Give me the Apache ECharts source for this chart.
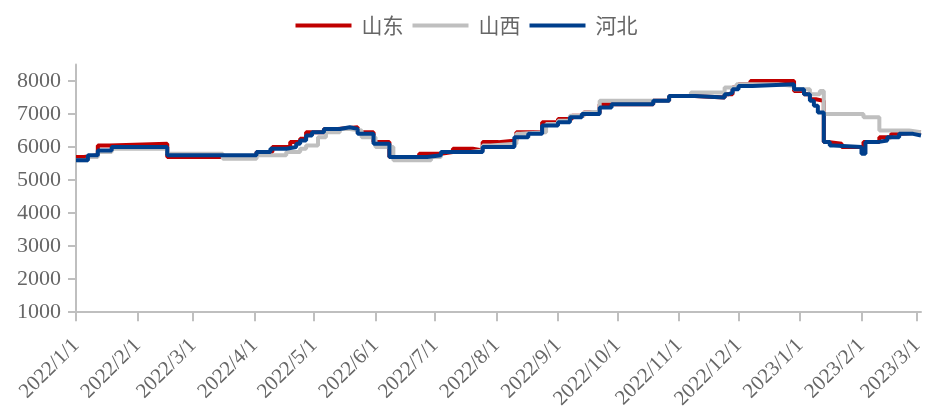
<!DOCTYPE html>
<html>
<head>
<meta charset="utf-8">
<script src="https://cdn.jsdelivr.net/npm/echarts@6/dist/echarts.min.js"></script>
<style>
  html, body { margin: 0; padding: 0; background: #fff; }
  #chart { width: 933px; height: 412px; }
</style>
</head>
<body>
<div id="chart"></div>
<script>
// Month-start tick labels on the date axis
const monthTicks = [
  '2022-01-01', '2022-02-01', '2022-03-01', '2022-04-01', '2022-05-01',
  '2022-06-01', '2022-07-01', '2022-08-01', '2022-09-01', '2022-10-01',
  '2022-11-01', '2022-12-01', '2023-01-01', '2023-02-01', '2023-03-01'
];
const yTicks = [1000, 2000, 3000, 4000, 5000, 6000, 7000, 8000];

// 山东: price change dates and the price held from each date
const shandongDates = [
  '2022-01-01', '2022-01-05', '2022-01-12', '2022-01-18', '2022-02-16', '2022-04-02',
  '2022-04-10', '2022-04-19', '2022-04-24', '2022-04-27', '2022-05-06', '2022-05-13',
  '2022-05-23', '2022-05-31', '2022-06-08', '2022-06-23', '2022-07-04', '2022-07-10',
  '2022-07-20', '2022-07-25', '2022-08-02', '2022-08-11', '2022-08-24', '2022-09-01',
  '2022-09-08', '2022-09-14', '2022-09-22', '2022-10-19', '2022-10-27', '2022-11-09',
  '2022-11-24', '2022-11-28', '2022-12-01', '2022-12-07', '2022-12-29', '2023-01-03',
  '2023-01-06', '2023-01-09', '2023-01-13', '2023-01-16', '2023-01-22', '2023-02-02',
  '2023-02-10', '2023-02-16', '2023-02-21', '2023-03-03'
];
const shandongPrices = [
  5700, 5750, 6050, 6100, 5700, 5850,
  6000, 6150, 6250, 6450, 6550, 6600,
  6450, 6150, 5700, 5800, 5850, 5950,
  5900, 6150, 6200, 6450, 6750, 6850,
  6950, 7050, 7300, 7400, 7550, 7500,
  7600, 7800, 7900, 8000, 7700, 7600,
  7450, 7400, 6150, 6100, 6000, 6150,
  6300, 6400, 6450, 6450
];

// 山西
const shanxiDates = [
  '2022-01-01', '2022-01-07', '2022-01-12', '2022-01-19', '2022-02-16', '2022-03-16',
  '2022-04-02', '2022-04-17', '2022-04-24', '2022-04-27', '2022-05-03', '2022-05-07',
  '2022-05-14', '2022-05-19', '2022-05-25', '2022-06-01', '2022-06-10', '2022-06-29',
  '2022-07-04', '2022-07-19', '2022-07-25', '2022-07-29', '2022-08-11', '2022-08-13',
  '2022-08-26', '2022-09-01', '2022-09-07', '2022-09-14', '2022-09-17', '2022-09-22',
  '2022-10-27', '2022-11-07', '2022-11-24', '2022-11-30', '2022-12-21', '2022-12-29',
  '2023-01-06', '2023-01-11', '2023-01-13', '2023-02-02', '2023-02-10', '2023-02-25',
  '2023-03-03'
];
const shanxiPrices = [
  5600, 5700, 5850, 5950, 5800, 5650,
  5750, 5850, 5950, 6050, 6300, 6450,
  6550, 6500, 6300, 6000, 5600, 5700,
  5850, 5900, 6050, 6100, 6400, 6450,
  6700, 6800, 6950, 7050, 7100, 7400,
  7550, 7650, 7800, 7900, 7850, 7750,
  7600, 7700, 7000, 6900, 6500, 6450,
  6450
];

// 河北
const hebeiDates = [
  '2022-01-01', '2022-01-07', '2022-01-12', '2022-01-19', '2022-02-16', '2022-04-02',
  '2022-04-09', '2022-04-17', '2022-04-22', '2022-04-24', '2022-04-27', '2022-04-30',
  '2022-05-06', '2022-05-14', '2022-05-19', '2022-05-23', '2022-05-31', '2022-06-08',
  '2022-06-27', '2022-07-04', '2022-07-25', '2022-08-10', '2022-08-17', '2022-08-24',
  '2022-09-01', '2022-09-07', '2022-09-13', '2022-09-22', '2022-09-28', '2022-10-19',
  '2022-10-27', '2022-11-09', '2022-11-24', '2022-11-26', '2022-11-28', '2022-12-01',
  '2022-12-08', '2022-12-29', '2023-01-03', '2023-01-06', '2023-01-08', '2023-01-10',
  '2023-01-13', '2023-01-16', '2023-01-18', '2023-02-01', '2023-02-03', '2023-02-09',
  '2023-02-14', '2023-02-20', '2023-02-27', '2023-03-03'
];
const hebeiPrices = [
  5600, 5750, 5900, 6000, 5750, 5850,
  5950, 6000, 6100, 6200, 6350, 6450,
  6550, 6600, 6550, 6400, 6100, 5700,
  5750, 5850, 6000, 6300, 6400, 6650,
  6750, 6900, 7000, 7200, 7300, 7400,
  7550, 7500, 7600, 7650, 7750, 7850,
  7900, 7750, 7600, 7400, 7250, 7050,
  6150, 6050, 6000, 5800, 6150, 6200,
  6300, 6400, 6350, 6350
];

function toTime(s) {
  const p = s.split('-').map(Number);
  return new Date(p[0], p[1] - 1, p[2]).getTime();
}
function pairs(dates, prices) {
  return dates.map((d, i) => [toTime(d), prices[i]]);
}
function dateLabel(v) {
  const d = new Date(v);
  return d.getFullYear() + '/' + (d.getMonth() + 1) + '/' + d.getDate();
}

const serif = '"Liberation Serif", "Times New Roman", serif';
const axisGray = '#BFBFBF';
const labelGray = '#666666';
const monthTimes = monthTicks.map(toTime);

const chart = echarts.init(document.getElementById('chart'), null, { renderer: 'canvas' });

const lineSeries = (name, color, data) => ({
  name,
  type: 'line',
  step: 'end',
  symbol: 'none',
  data,
  lineStyle: { color, width: 4 },
  itemStyle: { color },
  emphasis: { disabled: true }
});

chart.setOption({
  animation: false,
  legend: {
    top: 10,
    left: 'center',
    icon: 'rect',
    itemWidth: 56,
    itemHeight: 4,
    itemGap: 9,
    textStyle: {
      color: labelGray,
      fontSize: 21,
      fontFamily: '"Noto Sans CJK SC", sans-serif',
      padding: [0, 0, 0, 5]
    },
    data: ['山东', '山西', '河北']
  },
  grid: { left: 76, right: 12, top: 64.5, bottom: 99, containLabel: false },
  xAxis: {
    type: 'value',
    min: toTime('2022-01-01'),
    max: toTime('2023-03-03'),
    splitLine: { show: false },
    axisLine: { show: true, onZero: false, lineStyle: { color: axisGray, width: 2 } },
    axisTick: {
      show: true,
      length: 9,
      lineStyle: { color: axisGray, width: 2 },
      customValues: monthTimes
    },
    axisLabel: {
      rotate: 45,
      margin: 30,
      color: labelGray,
      fontSize: 21,
      fontFamily: serif,
      customValues: monthTimes,
      formatter: dateLabel
    }
  },
  yAxis: {
    type: 'value',
    min: 1000,
    max: 8500,
    interval: 1000,
    splitLine: { show: false },
    axisLine: { show: true, lineStyle: { color: axisGray, width: 2 } },
    axisTick: {
      show: true,
      length: 8,
      lineStyle: { color: axisGray, width: 2 },
      customValues: yTicks
    },
    axisLabel: {
      margin: 15,
      color: labelGray,
      fontSize: 22,
      fontFamily: serif,
      customValues: yTicks,
      formatter: (v) => String(v)
    }
  },
  series: [
    lineSeries('山东', '#C00000', pairs(shandongDates, shandongPrices)),
    lineSeries('山西', '#BFBFBF', pairs(shanxiDates, shanxiPrices)),
    lineSeries('河北', '#003F8C', pairs(hebeiDates, hebeiPrices))
  ]
});
</script>
</body>
</html>
